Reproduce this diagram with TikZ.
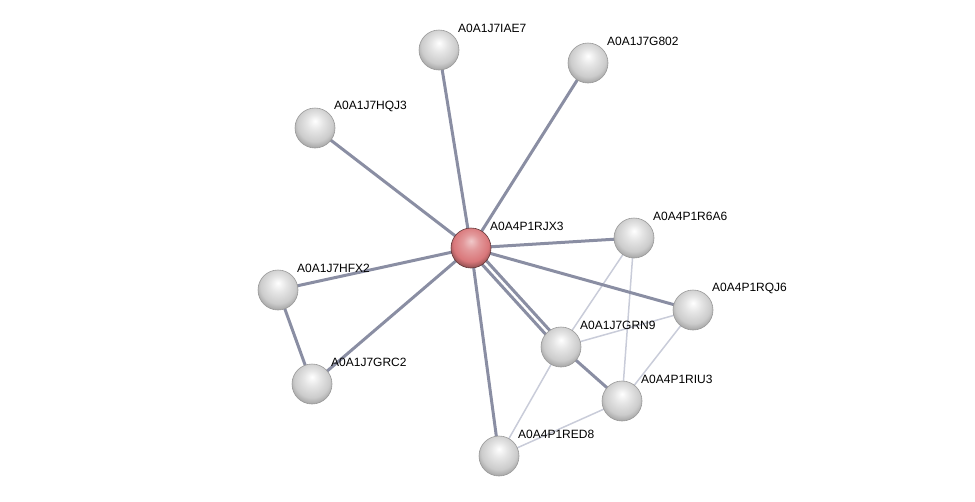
\documentclass[tikz,border=0pt]{standalone}
\usepackage{fontspec}
\setmainfont{Liberation Sans}
\usetikzlibrary{backgrounds}
\definecolor{edgedark}{HTML}{8A8EA3}
\definecolor{edgelight}{HTML}{C9CCD9}
\definecolor{hubred}{HTML}{D9777A}
\pgfdeclareradialshading{protball}{\pgfpoint{0bp}{9bp}}{color(0bp)=(white); color(10bp)=(white!90!black); color(22bp)=(white!80!black); color(30bp)=(white!62!black); color(50bp)=(white!62!black)}
\pgfdeclareradialshading{hubball}{\pgfpoint{0bp}{9bp}}{color(0bp)=(hubred!40!white); color(10bp)=(hubred!75!white); color(22bp)=(hubred); color(30bp)=(hubred!60!black); color(50bp)=(hubred!60!black)}
\tikzset{
  prot/.style={circle,minimum size=40pt,inner sep=0pt,draw=gray!80,line width=0.6pt,shading=protball},
  hub/.style={prot,draw=hubred!45!black,shading=hubball},
  lbl/.style={anchor=west,inner sep=1pt,font=\fontsize{12}{14}\selectfont},
  strong/.style={edgedark,line width=3pt},
  weak/.style={edgelight,line width=1.5pt}
}
\begin{document}
\begin{tikzpicture}[x=1pt,y=-1pt]
\useasboundingbox (0,0) rectangle (975,501);
% proteins
\node[hub] (rjx3) at (471,248) {};
\node[prot] (iae7) at (439,50) {};
\node[prot] (g802) at (588,63) {};
\node[prot] (hqj3) at (315,128) {};
\node[prot] (r6a6) at (634,238) {};
\node[prot] (hfx2) at (278,290) {};
\node[prot] (rqj6) at (693,310) {};
\node[prot] (grn9) at (561,347) {};
\node[prot] (grc2) at (312,384) {};
\node[prot] (riu3) at (622,401) {};
\node[prot] (red8) at (499,456) {};
% labels
\node[lbl] at ([shift={(18,-22)}]rjx3) {A0A4P1RJX3};
\node[lbl] at ([shift={(18,-22)}]iae7) {A0A1J7IAE7};
\node[lbl] at ([shift={(18,-22)}]g802) {A0A1J7G802};
\node[lbl] at ([shift={(18,-22)}]hqj3) {A0A1J7HQJ3};
\node[lbl] at ([shift={(18,-22)}]r6a6) {A0A4P1R6A6};
\node[lbl] at ([shift={(18,-22)}]hfx2) {A0A1J7HFX2};
\node[lbl] at ([shift={(18,-22)}]rqj6) {A0A4P1RQJ6};
\node[lbl] at ([shift={(18,-22)}]grn9) {A0A1J7GRN9};
\node[lbl] at ([shift={(18,-22)}]grc2) {A0A1J7GRC2};
\node[lbl] at ([shift={(18,-22)}]riu3) {A0A4P1RIU3};
\node[lbl] at ([shift={(18,-22)}]red8) {A0A4P1RED8};
% interactions
\begin{pgfonlayer}{background}
\draw[weak] (r6a6.center) -- (grn9.center);
\draw[weak] (r6a6.center) -- (riu3.center);
\draw[weak] (rqj6.center) -- (grn9.center);
\draw[weak] (rqj6.center) -- (riu3.center);
\draw[weak] (grn9.center) -- (red8.center);
\draw[weak] (riu3.center) -- (red8.center);
\draw[strong] (rjx3.center) -- (iae7.center);
\draw[strong] (rjx3.center) -- (g802.center);
\draw[strong] (rjx3.center) -- (hqj3.center);
\draw[strong] (rjx3.center) -- (r6a6.center);
\draw[strong] (rjx3.center) -- (hfx2.center);
\draw[strong] (rjx3.center) -- (rqj6.center);
\draw[strong] (rjx3.center) -- (grc2.center);
\draw[strong] (rjx3.center) -- (red8.center);
\draw[strong] ([shift={(2,-2)}]rjx3.center) -- ([shift={(2,-2)}]grn9.center);
\draw[strong] ([shift={(-2,2)}]rjx3.center) -- ([shift={(-2,2)}]grn9.center);
\draw[strong] (hfx2.center) -- (grc2.center);
\draw[strong] (grn9.center) -- (riu3.center);
\end{pgfonlayer}
\end{tikzpicture}
\end{document}
